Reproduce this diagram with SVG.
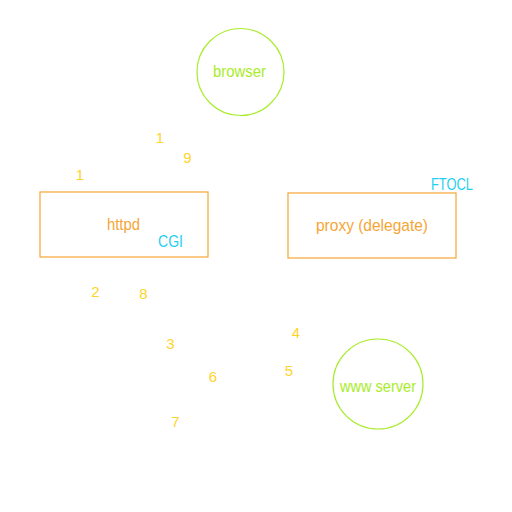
<svg xmlns="http://www.w3.org/2000/svg" width="512" height="512" viewBox="0 0 512 512">
<style>
.g{fill:none;stroke:#a8ec2a;stroke-width:1.2}
.o{fill:none;stroke:#f7a535;stroke-width:1.2}
.tg{fill:#a8ec2a;font-family:"Liberation Sans",Arial,sans-serif;font-size:17px}
.to{fill:#f7a535;font-family:"Liberation Sans",Arial,sans-serif;font-size:17px}
.tc{fill:#1ed0f0;font-family:"Liberation Sans",Arial,sans-serif;font-size:17px}
.n{fill:#ffd42a;font-family:"Liberation Sans",Arial,sans-serif;font-size:15px;text-anchor:middle}
</style>
<rect width="512" height="512" fill="#fff"/>
<g id="browser">
<circle class="g" cx="240.5" cy="72" r="43.5"/>
<text class="tg" x="213" y="77" textLength="53" lengthAdjust="spacingAndGlyphs">browser</text>
</g>
<g id="httpd">
<rect class="o" x="40" y="192" width="168" height="65"/>
<text class="to" x="107" y="230" textLength="33" lengthAdjust="spacingAndGlyphs">httpd</text>
<text class="tc" x="158" y="247" textLength="25" lengthAdjust="spacingAndGlyphs">CGI</text>
</g>
<g id="proxy">
<rect class="o" x="288" y="193" width="168" height="65"/>
<text class="to" x="316" y="231" textLength="112" lengthAdjust="spacingAndGlyphs">proxy (delegate)</text>
<text class="tc" x="431" y="190" textLength="42" lengthAdjust="spacingAndGlyphs">FTOCL</text>
</g>
<g id="www-server">
<circle class="g" cx="378" cy="384" r="45"/>
<text class="tg" x="340" y="392" textLength="76" lengthAdjust="spacingAndGlyphs">www server</text>
</g>
<g id="connectors">
<text class="n" x="160" y="143">1</text>
<text class="n" x="187.5" y="163">9</text>
<text class="n" x="80" y="180">1</text>
<text class="n" x="95.5" y="297">2</text>
<text class="n" x="143.5" y="299">8</text>
<text class="n" x="170.5" y="349">3</text>
<text class="n" x="296" y="338">4</text>
<text class="n" x="289" y="376">5</text>
<text class="n" x="213" y="382">6</text>
<text class="n" x="175.5" y="427">7</text>
</g>
</svg>
